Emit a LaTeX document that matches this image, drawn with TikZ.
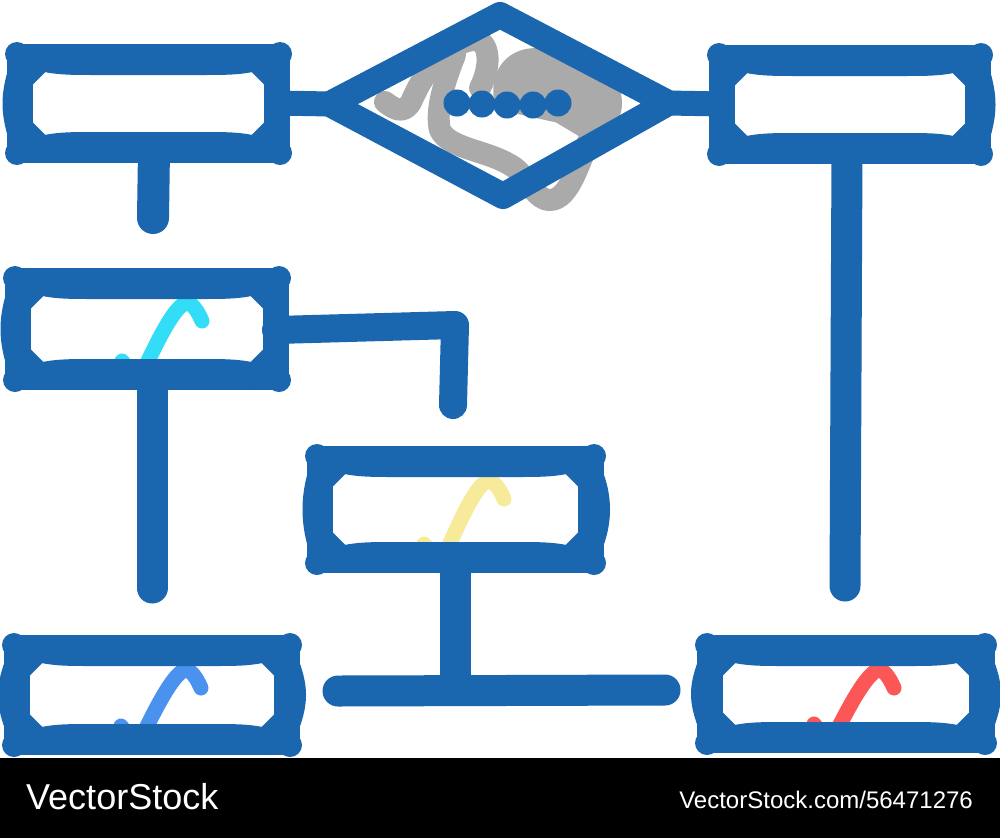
\documentclass[tikz,border=0pt]{standalone}
\usepackage{fontspec}
\setmainfont{Liberation Sans}
\definecolor{dblue}{HTML}{1A66AF}
\definecolor{sgray}{HTML}{AAAAAA}
\definecolor{icyan}{HTML}{33DDF7}
\definecolor{iyellow}{HTML}{F7EB9B}
\definecolor{ilblue}{HTML}{4A92EE}
\definecolor{ired}{HTML}{FB5757}
\newcommand\bonebox[6]{%
  \begin{scope}[shift={(#1,#2)}]
    \draw[bline] (0,0) rectangle (#3,#4);
    \draw[bline] (18,0) .. controls (35,5) and (50,5) .. (75,5) -- (#3-75,5) .. controls (#3-50,5) and (#3-35,5) .. (#3-18,0);
    \draw[bline] (18,#4) .. controls (35,#4-5) and (50,#4-5) .. (75,#4-5) -- (#3-75,#4-5) .. controls (#3-50,#4-5) and (#3-35,#4-5) .. (#3-18,#4);
    \draw[bline] (0,22) -- (22,0);
    \draw[bline] (#3-22,0) -- (#3,22);
    \draw[bline] (#3,#4-22) -- (#3-22,#4);
    \draw[bline] (22,#4) -- (0,#4-22);
    \draw[bline] (0,18) .. controls (-#5,40) and (-#5,#4-40) .. (0,#4-18);
    \draw[bline] (#3,18) .. controls (#3+#6,40) and (#3+#6,#4-40) .. (#3,#4-18);
    \fill[dblue] (-3,-3) circle (12) (#3+3,-3) circle (12) (#3+3,#4+3) circle (12) (-3,#4+3) circle (12);
  \end{scope}}
\newcommand\checkicon[4]{%
  \begin{scope}[shift={(#1,#2)}]
    \draw[icon,draw=#4] (104,#3-16) -- (120,#3+5) .. controls (132,#3-20) and (150,36) .. (163,25) .. controls (170,18) and (177,24) .. (184,40);
  \end{scope}}
\begin{document}
\begin{tikzpicture}[x=1pt,y=-1pt,
  bline/.style={draw=dblue,line width=26pt,line cap=round,line join=round},
  conn/.style={draw=dblue,line width=31pt,line cap=round,line join=round},
  icon/.style={line width=15pt,line cap=round,line join=round},
  gline/.style={draw=sgray,line width=22pt,line cap=round,line join=round},
  dot/.style={fill=dblue}]
\useasboundingbox (0,0) rectangle (1000,838);
\fill[white] (0,0) rectangle (1000,758);
\fill[black] (0,758) rectangle (1000,838);
% named points
\coordinate (tlR) at (277,103);
\coordinate (dL) at (330,104);
\coordinate (dT) at (500,15);
\coordinate (dR) at (668,103);
\coordinate (dB) at (503,196);
\coordinate (trL) at (722,104);
\coordinate (tlB) at (154,150);
\coordinate (tlStub) at (153,218);
\coordinate (trB) at (847,151);
\coordinate (trEnd) at (845,586);
\coordinate (bxB) at (152,377);
\coordinate (bxEnd) at (152,588);
\coordinate (bxR) at (276,330);
\coordinate (bxC) at (455,325);
\coordinate (bxEndB) at (453,405);
\coordinate (mB) at (455,560);
\coordinate (mJ) at (455,690);
\coordinate (hL) at (338,691);
\coordinate (hR) at (665,690);
% icons (under boxes)
\checkicon{18}{281}{96}{icyan}
\checkicon{320}{459}{101}{iyellow}
\checkicon{17}{648}{94}{ilblue}
\checkicon{710}{648}{92}{ired}
% gray scribble inside diamond
\fill[sgray] (505,100) .. controls (500,70) and (520,55) .. (545,60) .. controls (565,62) and (600,70) .. (610,95) .. controls (615,115) and (600,130) .. (590,130) -- (560,112) -- cycle;
\draw[gline] (505,100) .. controls (500,70) and (520,55) .. (545,60) .. controls (565,62) and (600,70) .. (610,95) .. controls (615,115) and (600,130) .. (590,130) -- (560,112) -- cycle;
\draw[gline] (385,102) .. controls (395,110) and (405,115) .. (412,100) .. controls (425,70) and (445,45) .. (472,40) .. controls (490,38) and (492,65) .. (480,88);
\draw[gline] (455,55) .. controls (445,80) and (435,110) .. (440,130) .. controls (450,150) and (490,150) .. (515,168) .. controls (530,180) and (535,200) .. (550,200) .. controls (570,200) and (580,160) .. (595,125);
% diamond
\draw[bline] (dL) -- (dT) -- (dR) -- (dB) -- cycle;
\foreach \px/\py in {457/103,482/104,507/105,533/105,558/103}
  \fill[dot] (\px,\py) circle (13.5);
% connectors
\draw[conn,line width=25pt] (tlR) -- (dL);
\draw[conn,line width=25pt] (dR) -- (trL);
\draw[conn,line width=32pt] (tlB) -- (tlStub);
\draw[conn] (trB) -- (trEnd);
\draw[conn] (bxB) -- (bxEnd);
\draw[conn,line width=28pt] (bxR) -- (bxC) -- (bxEndB);
\draw[conn] (mB) -- (mJ);
\draw[conn] (hL) -- (hR);
% boxes
\bonebox{20}{57}{257}{93}{6}{0}
\bonebox{722}{58}{256}{93}{0}{6}
\bonebox{18}{281}{258}{96}{6}{0}
\bonebox{320}{459}{271}{101}{6}{8}
\bonebox{17}{648}{270}{94}{8}{8}
\bonebox{710}{648}{272}{92}{8}{8}
% watermark bar texts
\node[anchor=base west,inner sep=0pt,text=white,font=\fontsize{36}{36}\selectfont] (brand) at (26,809) {VectorStock};
\node[anchor=base east,inner sep=0pt,text=white,font=\fontsize{24}{24}\selectfont] (code) at (973,808) {VectorStock.com/56471276};
\end{tikzpicture}
\end{document}
